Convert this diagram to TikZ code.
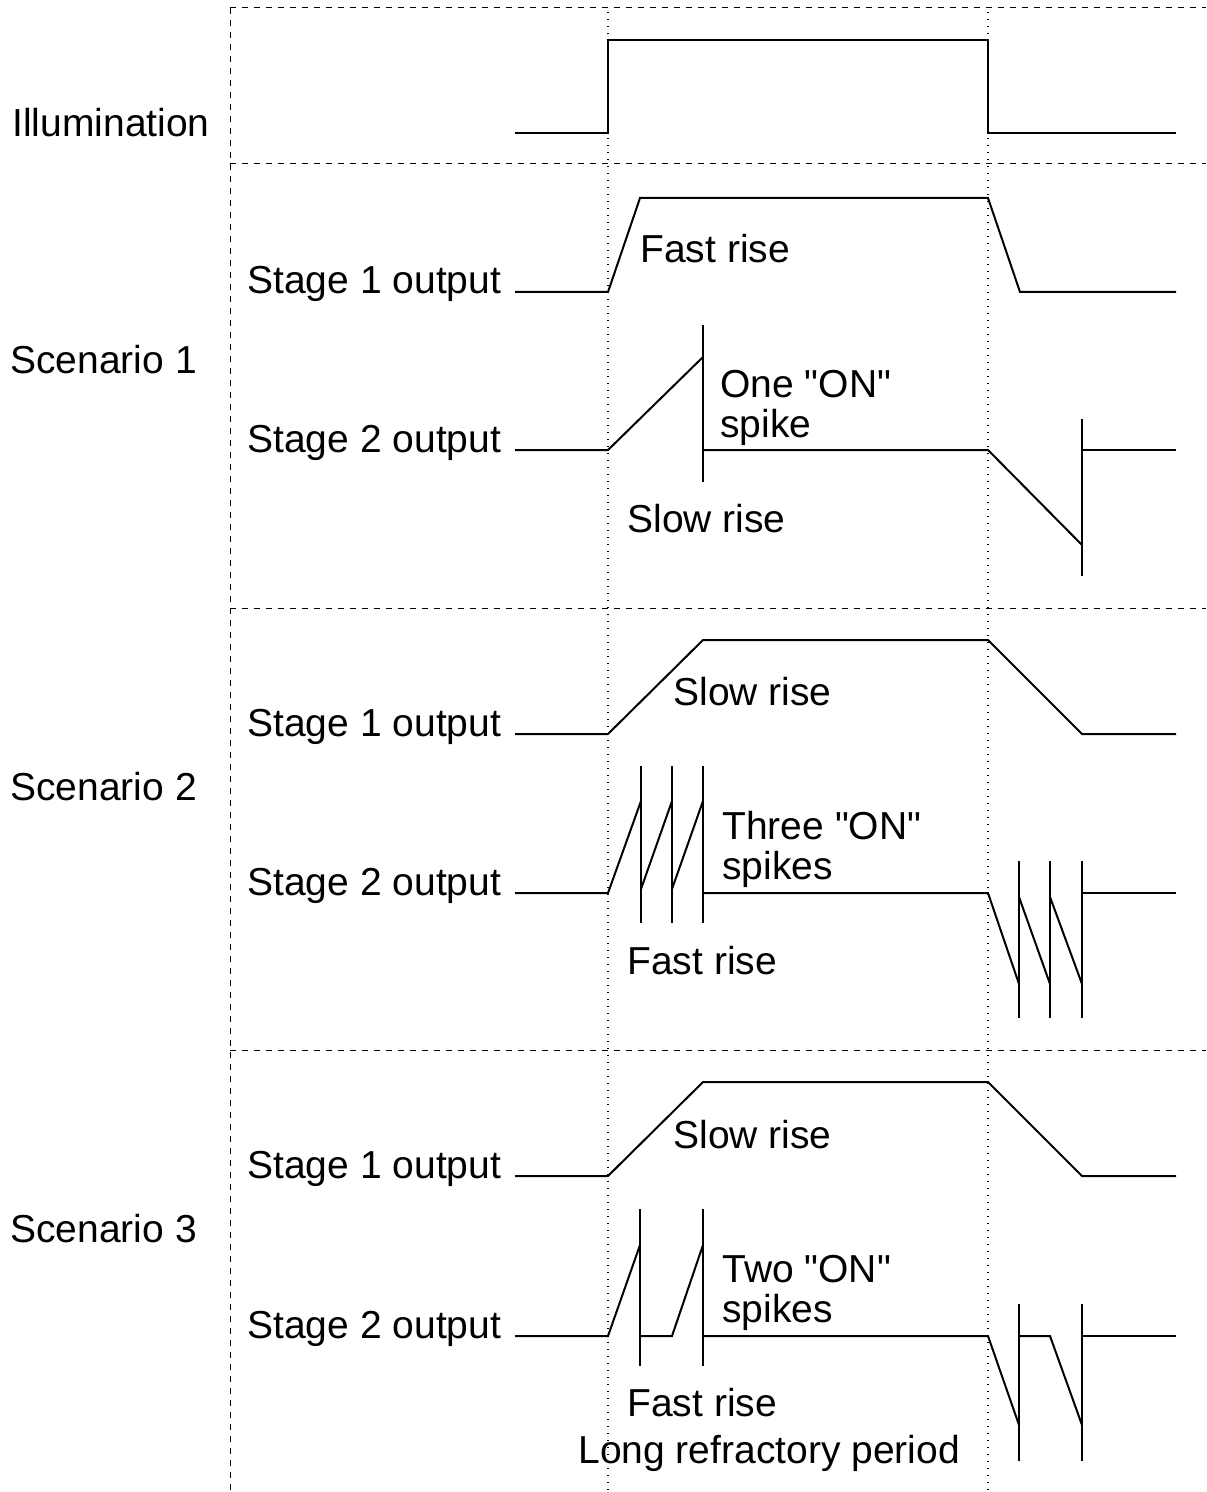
\documentclass[tikz,border=0pt]{standalone}
\usepackage{fontspec}
\newfontfamily\lblfont{Liberation Sans}
\usetikzlibrary{positioning}

\begin{document}
\begin{tikzpicture}[
  x=0.5pt, y=-0.5pt,
  wave/.style={line width=1pt, line join=miter},
  sep/.style={line width=0.5pt, dash pattern=on 3pt off 3pt},
  mark line/.style={line width=0.6pt, dash pattern=on 0.6pt off 2.9pt},
  lbl/.style={font=\lblfont\fontsize{19.5}{22}\selectfont, anchor=base west, inner sep=0pt}
]
\useasboundingbox (0,0) rectangle (1206,1492);

%% Frame: dashed separators and dotted time markers
\draw[sep] (230,8) -- (230,1492);
\foreach \yy in {8,164,608,1050}
  \draw[sep] (230,\yy) -- (1206,\yy);
\foreach \xx in {608,988}
  \draw[mark line] (\xx,12) -- (\xx,1492);

%% Row labels
\node[lbl] (illum) at (12,137)  {Illumination};
\node[lbl] (scA)   at (10,373)  {Scenario 1};
\node[lbl] (scB)   at (10,800)  {Scenario 2};
\node[lbl] (scC)   at (10,1242) {Scenario 3};

\node[lbl] (sAone) at (247,294)  {Stage 1 output};
\node[lbl] (sAtwo) at (247,452)  {Stage 2 output};
\node[lbl] (sBone) at (247,736)  {Stage 1 output};
\node[lbl] (sBtwo) at (247,895)  {Stage 2 output};
\node[lbl] (sCone) at (247,1178) {Stage 1 output};
\node[lbl] (sCtwo) at (247,1338) {Stage 2 output};

%% Illumination
\draw[wave] (515,133) -- (608,133) -- (608,40) -- (988,40) -- (988,133) -- (1176,133);

%% Scenario 1
\draw[wave] (515,292) -- (608,292) -- (640,198) -- (988,198) -- (1020,292) -- (1176,292);
\draw[wave] (515,450) -- (608,450) -- (703,357);
\draw[wave] (703,325) -- (703,482);
\draw[wave] (703,450) -- (988,450) -- (1082,545);
\draw[wave] (1082,419) -- (1082,576);
\draw[wave] (1082,450) -- (1176,450);
\node[lbl] (fastA) at (640,263) {Fast rise};
\node[lbl] (onA)   at (720,397) {One "ON"};
\node[lbl] (spkA)  at (720,437) {spike};
\node[lbl] (slowA) at (627,532) {Slow rise};

%% Scenario 2
\draw[wave] (515,734) -- (608,734) -- (703,640) -- (988,640) -- (1082,734) -- (1176,734);
\draw[wave] (515,893) -- (608,893) -- (641,801);
\draw[wave] (641,889) -- (672,801);
\draw[wave] (672,889) -- (703,801);
\foreach \xx in {641,672,703}
  \draw[wave] (\xx,766) -- (\xx,923);
\draw[wave] (703,893) -- (988,893) -- (1019,984);
\draw[wave] (1019,897) -- (1050,984);
\draw[wave] (1050,897) -- (1082,984);
\foreach \xx in {1019,1050,1082}
  \draw[wave] (\xx,861) -- (\xx,1018);
\draw[wave] (1082,893) -- (1176,893);
\node[lbl] (slowB) at (673,705) {Slow rise};
\node[lbl] (onB)   at (722,839) {Three "ON"};
\node[lbl] (spkB)  at (722,879) {spikes};
\node[lbl] (fastB) at (627,974) {Fast rise};

%% Scenario 3
\draw[wave] (515,1176) -- (608,1176) -- (703,1082) -- (988,1082) -- (1082,1176) -- (1176,1176);
\draw[wave] (515,1336) -- (608,1336) -- (640,1245);
\draw[wave] (640,1336) -- (672,1336) -- (703,1245);
\foreach \xx in {640,703}
  \draw[wave] (\xx,1209) -- (\xx,1366);
\draw[wave] (703,1336) -- (988,1336) -- (1019,1425);
\draw[wave] (1019,1336) -- (1050,1336) -- (1082,1425);
\foreach \xx in {1019,1082}
  \draw[wave] (\xx,1304) -- (\xx,1461);
\draw[wave] (1082,1336) -- (1176,1336);
\node[lbl] (slowC) at (673,1148) {Slow rise};
\node[lbl] (onC)   at (722,1282) {Two "ON"};
\node[lbl] (spkC)  at (722,1322) {spikes};
\node[lbl] (fastC) at (627,1416) {Fast rise};
\node[lbl] (refr)  at (578,1463) {Long refractory period};

\end{tikzpicture}
\end{document}
